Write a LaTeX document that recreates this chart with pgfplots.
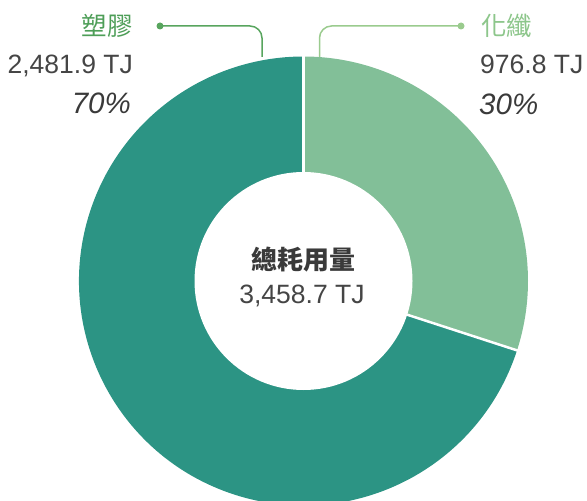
\documentclass[border=0pt]{standalone}
\usepackage{pgfplots}
\pgfplotsset{compat=1.18}
\usepackage{pgfplotstable}
\usepackage{fontspec}
\setmainfont{Liberation Sans}
\newfontfamily\cjk{Noto Sans CJK TC}
\definecolor{darkteal}{HTML}{2C9484}
\definecolor{lightgreen}{HTML}{82BF98}
\definecolor{lblgreen}{HTML}{4E9E58}
\definecolor{lbllight}{HTML}{8DC68B}
\definecolor{linegreen}{HTML}{58A55E}
\definecolor{linelight}{HTML}{9ACB8E}
\definecolor{txt}{HTML}{454545}
\definecolor{pct}{HTML}{3A3A3A}
% data: value (TJ), percent shown
\pgfplotstableread{
name value percent
plastics 2481.9 70
fibres 976.8 30
}\datatable
\begin{document}
\begin{tikzpicture}
\pgfplotstablegetelem{0}{percent}\of\datatable \let\pA\pgfplotsretval
\pgfplotstablegetelem{1}{percent}\of\datatable \let\pB\pgfplotsretval
\pgfmathsetmacro{\angB}{90-3.6*\pB}
\pgfmathsetmacro{\angA}{\angB-3.6*\pA}
\def\R{224.5bp}
\def\r{109bp}
\begin{axis}[
  at={(0,0)}, anchor=south west,
  width=587bp, height=501bp, scale only axis,
  xmin=0, xmax=587, ymin=0, ymax=501, y dir=reverse,
  hide axis, clip=true]
\coordinate (c) at (axis cs:303.5,281);
% slices
\fill[darkteal] (c) -- ++(\angB:\R) arc[start angle=\angB, end angle=\angA, radius=\R] -- cycle;
\fill[lightgreen] (c) -- ++(90:\R) arc[start angle=90, end angle=\angB, radius=\R] -- cycle;
\draw[white, line width=2.5bp] (c) -- ++(90:230bp);
\draw[white, line width=2.5bp] (c) -- ++(\angB:230bp);
\fill[white] (c) circle[radius=\r];
% leader lines
\draw[linegreen, line width=1.5bp, rounded corners=12bp] (axis cs:160,26) -- (axis cs:262,26) -- (axis cs:262,57);
\fill[linegreen] (axis cs:160,26) circle[radius=3.5bp];
\draw[linelight, line width=1.5bp, rounded corners=12bp] (axis cs:319.5,57) -- (axis cs:319.5,26) -- (axis cs:461,26);
\fill[linelight] (axis cs:461,26) circle[radius=3.5bp];
% left labels
\node[anchor=base east, inner sep=0pt, text=lblgreen, font=\cjk\fontsize{25.5bp}{30bp}\selectfont] at (axis cs:133,35.5) {塑膠};
\node[anchor=base east, inner sep=0pt, text=txt, font=\fontsize{26.5bp}{30bp}\selectfont] at (axis cs:133,74) {2,481.9 TJ};
\node[anchor=base east, inner sep=0pt, text=pct, font=\itshape\fontsize{29.5bp}{34bp}\selectfont] at (axis cs:131,113.5) {70\%};
% right labels
\node[anchor=base west, inner sep=0pt, text=lbllight, font=\cjk\fontsize{25.5bp}{30bp}\selectfont] at (axis cs:481,35.5) {化纖};
\node[anchor=base west, inner sep=0pt, text=txt, font=\fontsize{26.5bp}{30bp}\selectfont] at (axis cs:480,74) {976.8 TJ};
\node[anchor=base west, inner sep=0pt, text=pct, font=\itshape\fontsize{29.5bp}{34bp}\selectfont] at (axis cs:479,114.5) {30\%};
% centre
\node[anchor=base, inner sep=0pt, text=pct, font=\cjk\bfseries\fontsize{26bp}{30bp}\selectfont] at (axis cs:303,269.5) {總耗用量};
\node[anchor=base, inner sep=0pt, text=txt, font=\fontsize{26.5bp}{30bp}\selectfont] at (axis cs:302,303) {3,458.7 TJ};
\end{axis}
\pgfresetboundingbox
\useasboundingbox (0,0) rectangle (587bp,501bp);
\end{tikzpicture}
\end{document}
